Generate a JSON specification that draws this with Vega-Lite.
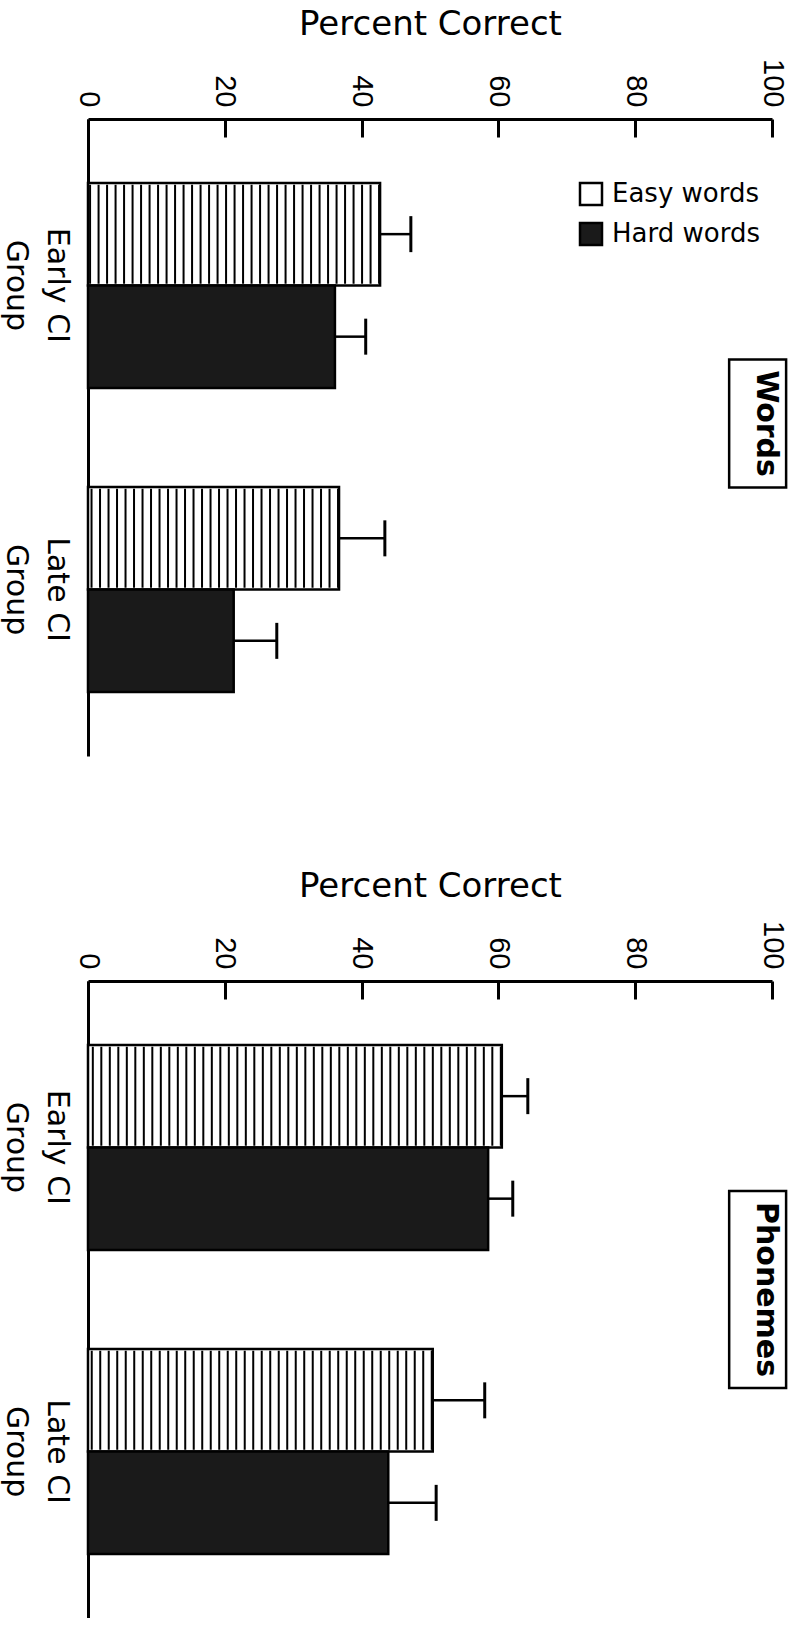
{
  "$schema": "https://vega.github.io/schema/vega-lite/v6.json",
  "background": "white",
  "padding": {"left": 0, "top": 7, "right": 0, "bottom": 0},
  "spacing": 113,
  "config": {
    "view": {"stroke": null},
    "axis": {"labelColor": "black", "titleColor": "black", "domainColor": "black", "tickColor": "black", "grid": false}
  },
  "resolve": {"scale": {"fill": "independent"}, "legend": {"fill": "independent"}},
  "datasets": {
    "words": [
      {"group": "Early CI Group", "type": "Easy words", "value": 42.7, "upper": 47.2},
      {"group": "Early CI Group", "type": "Hard words", "value": 36.1, "upper": 40.6},
      {"group": "Late CI Group", "type": "Easy words", "value": 36.7, "upper": 43.4},
      {"group": "Late CI Group", "type": "Hard words", "value": 21.3, "upper": 27.6}
    ],
    "phonemes": [
      {"group": "Early CI Group", "type": "Easy words", "value": 60.5, "upper": 64.3},
      {"group": "Early CI Group", "type": "Hard words", "value": 58.5, "upper": 62.1},
      {"group": "Late CI Group", "type": "Easy words", "value": 50.4, "upper": 58.0},
      {"group": "Late CI Group", "type": "Hard words", "value": 43.9, "upper": 50.9}
    ],
    "box": [{"frame": "title box"}]
  },
  "vconcat": [
    {
      "width": 684,
      "height": 637,
      "data": {"name": "words"},
      "title": {"text": "Words", "orient": "right", "anchor": "middle", "frame": "group", "angle": 90, "baseline": "middle", "align": "center", "font": "DejaVu Sans", "fontSize": 30, "fontWeight": "bold", "color": "black", "offset": -55, "dx": -14},
      "layer": [
        {
          "mark": {"type": "bar", "stroke": "black", "strokeWidth": 2.5},
          "encoding": {
            "y": {"field": "group", "type": "nominal", "scale": {"domain": ["Early CI Group", "Late CI Group"], "paddingInner": 0.326, "paddingOuter": 0.21},
              "axis": {"title": null, "orient": "left", "ticks": false, "domain": true, "domainWidth": 3, "labelAngle": 90, "labelAlign": "center", "labelBaseline": "top", "labelPadding": 17, "labelFont": "DejaVu Sans", "labelFontSize": 30, "labelLineHeight": 41, "labelLimit": 0, "labelExpr": "[replace(datum.value, ' Group', ''), 'Group']"}},
            "yOffset": {"field": "type", "type": "nominal", "scale": {"domain": ["Easy words", "Hard words"], "paddingInner": 0, "paddingOuter": 0}},
            "x": {"field": "value", "type": "quantitative", "scale": {"domain": [0, 100], "nice": false, "zero": true},
              "axis": {"orient": "top", "title": "Percent Correct", "titleFont": "DejaVu Sans", "titleFontSize": 34, "titleFontWeight": "normal", "titlePadding": 17, "values": [0, 20, 40, 60, 80, 100], "tickSize": -18, "tickWidth": 3, "domainWidth": 3, "labelAngle": 90, "labelAlign": "right", "labelBaseline": "middle", "labelPadding": 30, "labelFont": "Liberation Sans", "labelFontSize": 29, "labelFlush": false, "labelOverlap": false, "labelBound": false}},
            "fill": {"field": "type", "type": "nominal", "scale": {"domain": ["Easy words", "Hard words"], "range": ["white", "#1a1a1a"]},
              "legend": {"orient": "none", "legendX": 490, "legendY": 62, "direction": "vertical", "title": null, "padding": 0, "rowPadding": 8, "symbolType": "square", "symbolSize": 484, "symbolStrokeColor": "black", "symbolStrokeWidth": 2.5, "labelFont": "DejaVu Sans", "labelFontSize": 26, "labelColor": "black", "labelLimit": 0, "labelOffset": 8}}
          }
        },
        {
          "transform": [{"filter": "datum.type === 'Easy words'"}],
          "mark": {"type": "rule", "color": "black", "strokeWidth": 99, "strokeDash": [2, 6.5], "strokeCap": "butt"},
          "encoding": {
            "y": {"field": "group", "type": "nominal"},
            "yOffset": {"field": "type", "type": "nominal"},
            "x": {"field": "value", "type": "quantitative"}
          }
        },
        {
          "mark": {"type": "rule", "color": "black", "strokeWidth": 2.5},
          "encoding": {
            "y": {"field": "group", "type": "nominal"},
            "yOffset": {"field": "type", "type": "nominal"},
            "x": {"field": "value", "type": "quantitative"},
            "x2": {"field": "upper"}
          }
        },
        {
          "mark": {"type": "tick", "color": "black", "size": 36, "thickness": 3, "opacity": 1},
          "encoding": {
            "y": {"field": "group", "type": "nominal"},
            "yOffset": {"field": "type", "type": "nominal"},
            "x": {"field": "upper", "type": "quantitative"}
          }
        },
        {
          "data": {"name": "box"},
          "mark": {"type": "point", "shape": "M-0.445,-1H0.445V1H-0.445Z", "size": 16384, "filled": false, "stroke": "black", "strokeWidth": 2.5, "opacity": 1, "yOffset": -14},
          "encoding": {
            "x": {"datum": 97.9, "type": "quantitative"}
          }
        }
      ]
    },
    {
      "width": 684,
      "height": 637,
      "data": {"name": "phonemes"},
      "title": {"text": "Phonemes", "orient": "right", "anchor": "middle", "frame": "group", "angle": 90, "baseline": "middle", "align": "center", "font": "DejaVu Sans", "fontSize": 30, "fontWeight": "bold", "color": "black", "offset": -55, "dx": -10},
      "layer": [
        {
          "mark": {"type": "bar", "stroke": "black", "strokeWidth": 2.5},
          "encoding": {
            "y": {"field": "group", "type": "nominal", "scale": {"domain": ["Early CI Group", "Late CI Group"], "paddingInner": 0.326, "paddingOuter": 0.21},
              "axis": {"title": null, "orient": "left", "ticks": false, "domain": true, "domainWidth": 3, "labelAngle": 90, "labelAlign": "center", "labelBaseline": "top", "labelPadding": 17, "labelFont": "DejaVu Sans", "labelFontSize": 30, "labelLineHeight": 41, "labelLimit": 0, "labelExpr": "[replace(datum.value, ' Group', ''), 'Group']"}},
            "yOffset": {"field": "type", "type": "nominal", "scale": {"domain": ["Easy words", "Hard words"], "paddingInner": 0, "paddingOuter": 0}},
            "x": {"field": "value", "type": "quantitative", "scale": {"domain": [0, 100], "nice": false, "zero": true},
              "axis": {"orient": "top", "title": "Percent Correct", "titleFont": "DejaVu Sans", "titleFontSize": 34, "titleFontWeight": "normal", "titlePadding": 17, "values": [0, 20, 40, 60, 80, 100], "tickSize": -18, "tickWidth": 3, "domainWidth": 3, "labelAngle": 90, "labelAlign": "right", "labelBaseline": "middle", "labelPadding": 30, "labelFont": "Liberation Sans", "labelFontSize": 29, "labelFlush": false, "labelOverlap": false, "labelBound": false}},
            "fill": {"field": "type", "type": "nominal", "scale": {"domain": ["Easy words", "Hard words"], "range": ["white", "#1a1a1a"]}, "legend": null}
          }
        },
        {
          "transform": [{"filter": "datum.type === 'Easy words'"}],
          "mark": {"type": "rule", "color": "black", "strokeWidth": 99, "strokeDash": [2, 6.5], "strokeCap": "butt"},
          "encoding": {
            "y": {"field": "group", "type": "nominal"},
            "yOffset": {"field": "type", "type": "nominal"},
            "x": {"field": "value", "type": "quantitative"}
          }
        },
        {
          "mark": {"type": "rule", "color": "black", "strokeWidth": 2.5},
          "encoding": {
            "y": {"field": "group", "type": "nominal"},
            "yOffset": {"field": "type", "type": "nominal"},
            "x": {"field": "value", "type": "quantitative"},
            "x2": {"field": "upper"}
          }
        },
        {
          "mark": {"type": "tick", "color": "black", "size": 36, "thickness": 3, "opacity": 1},
          "encoding": {
            "y": {"field": "group", "type": "nominal"},
            "yOffset": {"field": "type", "type": "nominal"},
            "x": {"field": "upper", "type": "quantitative"}
          }
        },
        {
          "data": {"name": "box"},
          "mark": {"type": "point", "shape": "M-0.289,-1H0.289V1H-0.289Z", "size": 38809, "filled": false, "stroke": "black", "strokeWidth": 2.5, "opacity": 1, "yOffset": -10},
          "encoding": {
            "x": {"datum": 97.9, "type": "quantitative"}
          }
        }
      ]
    }
  ]
}
